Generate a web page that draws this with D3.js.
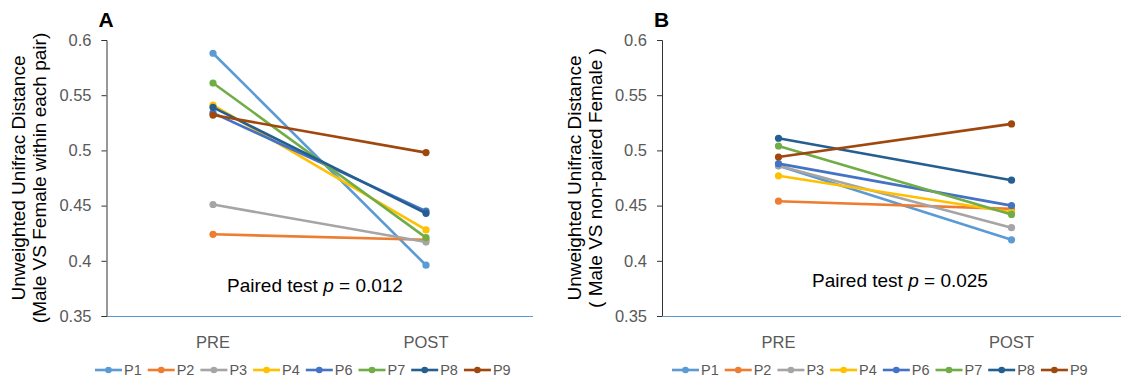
<!DOCTYPE html>
<html>
<head>
<meta charset="utf-8">
<script src="https://cdn.jsdelivr.net/npm/d3@7"></script>
<style>
  body { margin: 0; background: #fff; }
  svg text { font-family: "Liberation Sans", Arial, sans-serif; }
</style>
</head>
<body>
<svg id="chart" width="1121" height="382"></svg>
<script>
// --- DATA ---
const series = ["P1", "P2", "P3", "P4", "P6", "P7", "P8", "P9"];
const timepoints = ["PRE", "POST"];
const colors = ["#5B9BD5", "#ED7D31", "#A5A5A5", "#FFC000", "#4472C4", "#70AD47", "#255E91", "#9E480E"];
const yTicks = [0.35, 0.4, 0.45, 0.5, 0.55, 0.6];

// panel A: male vs female within each pair
const preA  = [0.588, 0.424, 0.451, 0.541, 0.534, 0.561, 0.539, 0.532];
const postA = [0.396, 0.419, 0.417, 0.428, 0.445, 0.421, 0.443, 0.498];
// panel B: male vs non-paired female
const preB  = [0.486, 0.454, 0.486, 0.477, 0.488, 0.504, 0.511, 0.494];
const postB = [0.419, 0.447, 0.430, 0.444, 0.450, 0.442, 0.473, 0.524];

const panels = [
  { letter: "A", pre: preA, post: postA, left: 106.5, right: 532.5,
    title: ["Unweighted Unifrac Distance", "(Male VS Female within each pair)"],
    pText: "0.012", pX: 315, pY: 292, legendX: 95 },
  { letter: "B", pre: preB, post: postB, left: 662, right: 1128,
    title: ["Unweighted Unifrac Distance", "( Male VS non-paired Female )"],
    pText: "0.025", pX: 900, pY: 287, legendX: 672 }
];

const svg = d3.select("#chart");
const plotTop = 40, plotBottom = 316;

const y = d3.scaleLinear().domain([0.35, 0.6]).range([plotBottom, plotTop]);

panels.forEach(p => {
  const g = svg.append("g");
  const x = d3.scaleBand().domain(timepoints).range([p.left, p.right]);

  // y axis
  const yAxis = g.append("g")
    .attr("transform", `translate(${p.left}, 0)`)
    .call(d3.axisLeft(y).tickValues(yTicks).tickSize(5).tickPadding(10).tickFormat(d3.format("")));
  yAxis.select(".domain").attr("stroke", "#333");
  yAxis.selectAll(".tick line").attr("stroke", "#333");
  yAxis.selectAll(".tick text")
    .attr("fill", "#595959")
    .style("font-size", "16.5px");

  // x axis
  const xAxis = g.append("g")
    .attr("transform", `translate(0, ${plotBottom})`)
    .call(d3.axisBottom(x).tickSize(0).tickPadding(20));
  xAxis.select(".domain").attr("stroke", "#5B9BD5").attr("stroke-width", 1.2);
  xAxis.selectAll(".tick text")
    .attr("fill", "#595959")
    .style("font-size", "16.5px");

  // axis title
  const cy = (plotTop + plotBottom) / 2;
  p.title.forEach((t, i) => {
    g.append("text")
      .attr("transform", `translate(${p.left - 88 + i * 21}, ${cy}) rotate(-90)`)
      .attr("text-anchor", "middle")
      .attr("dy", "0.35em")
      .style("font-size", "19px")
      .attr("fill", "#000")
      .text(t);
  });

  // panel letter
  g.append("text")
    .attr("x", p.left - 8)
    .attr("y", 27)
    .style("font-size", "21px")
    .style("font-weight", "bold")
    .text(p.letter);

  // lines
  const cx = d => x(d) + x.bandwidth() / 2;
  series.forEach((s, i) => {
    const pts = [[timepoints[0], p.pre[i]], [timepoints[1], p.post[i]]];
    g.append("path")
      .datum(pts)
      .attr("fill", "none")
      .attr("stroke", colors[i])
      .attr("stroke-width", 2.6)
      .attr("d", d3.line().x(d => cx(d[0])).y(d => y(d[1])));
    g.selectAll(null)
      .data(pts)
      .join("circle")
      .attr("cx", d => cx(d[0]))
      .attr("cy", d => y(d[1]))
      .attr("r", 3.6)
      .attr("fill", colors[i]);
  });

  // annotation
  const ann = g.append("text")
    .attr("x", p.pX)
    .attr("y", p.pY)
    .attr("text-anchor", "middle")
    .style("font-size", "19px")
    .attr("fill", "#000");
  ann.append("tspan").text("Paired test ");
  ann.append("tspan").style("font-style", "italic").text("p");
  ann.append("tspan").text(" = " + p.pText);

  // legend
  const leg = g.append("g").attr("transform", `translate(${p.legendX}, 370)`);
  series.forEach((s, i) => {
    const item = leg.append("g").attr("transform", `translate(${i * 52.7}, 0)`);
    item.append("line")
      .attr("x1", 0).attr("x2", 27)
      .attr("stroke", colors[i]).attr("stroke-width", 2.6);
    item.append("circle").attr("cx", 13.5).attr("r", 3.3).attr("fill", colors[i]);
    item.append("text")
      .attr("x", 29)
      .attr("dy", "0.36em")
      .style("font-size", "14.5px")
      .attr("fill", "#595959")
      .text(s);
  });
});
</script>
</body>
</html>
